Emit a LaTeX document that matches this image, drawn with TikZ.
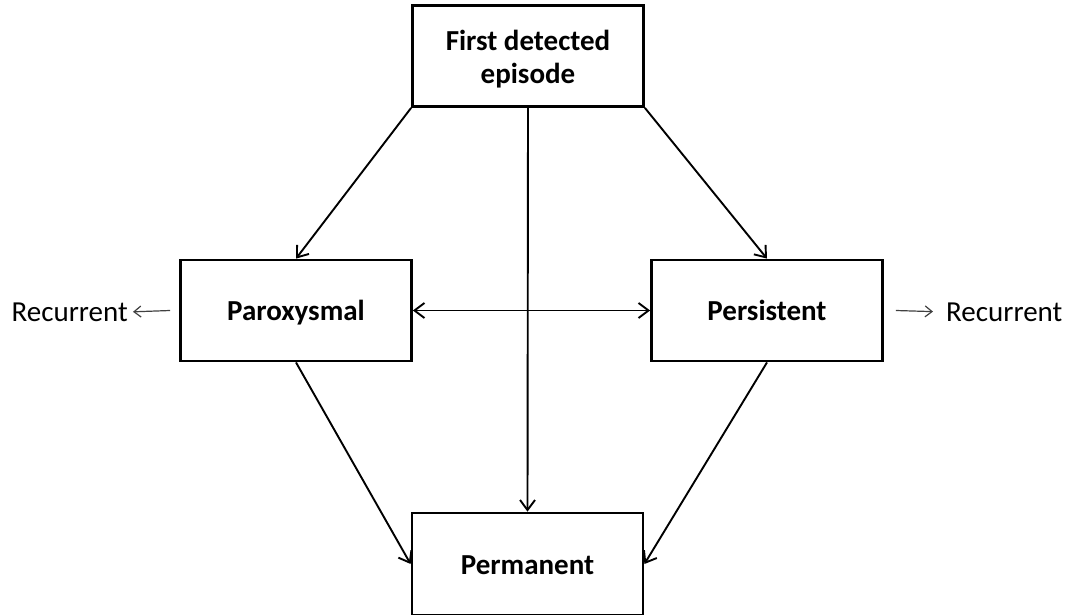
\documentclass[tikz,border=0pt]{standalone}
\usepackage{fontspec}
\setmainfont{Carlito}
\usetikzlibrary{arrows.meta}

\begin{document}
\begin{tikzpicture}[x=1pt, y=-1pt, line join=miter,
>={Straight Barb[length=10pt,width=15pt]},
state/.style={draw, line width=2.8pt, minimum width=231pt, minimum height=101pt,
  align=center, font=\fontsize{29}{33}\selectfont\bfseries},
side/.style={inner sep=0pt, font=\fontsize{29}{33}\selectfont},
]
\def\edgewidth{1.9pt}
\useasboundingbox (0,0) rectangle (1069,614);

\node[state, text height=54pt, text depth=0pt](first) at (528,56) {First detected\\episode}; 
\node[state, text height=20pt, text depth=0pt](parox) at (296,310.5) {Paroxysmal};
\node[state, text height=20pt, text depth=0pt](pers) at (767,310.5) {Persistent};
\node[state, text height=20pt, text depth=0pt, minimum height=102pt](perm) at (527.5,564) {Permanent};

\node[side, anchor=east](recl) at (128,312) {Recurrent}; %left
\node[side, anchor=west](recr) at (946,312) {Recurrent}; %right

\draw[->, line width=\edgewidth] (first.south west) -- (parox.north);
\draw[->, line width=\edgewidth] (first.south east) -- (pers.north);
\draw[->, line width=\edgewidth] (first.south) -- (perm.north);
\draw[<->, line width=\edgewidth] (parox.east) -- (pers.west);
\draw[->, line width=\edgewidth] (parox.south) -- (perm.west);
\draw[->, line width=\edgewidth] (pers.south) -- (perm.east);

\draw[-{Straight Barb[length=7pt,width=11pt]}, line width=1.2pt, black!75, shorten >=5pt] ([xshift=-9pt]parox.west) -- (recl.east);
\draw[-{Straight Barb[length=7pt,width=11pt]}, line width=1.2pt, black!75, shorten >=13pt] ([xshift=12pt]pers.east) -- (recr.west);
\end{tikzpicture}
\end{document}
